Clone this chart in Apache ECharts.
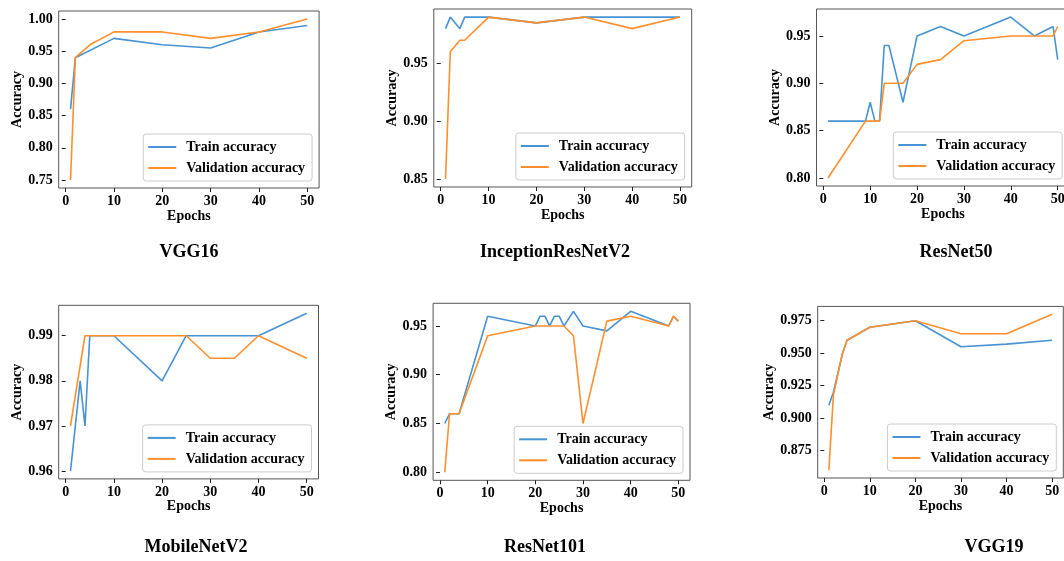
<!DOCTYPE html>
<html><head><meta charset="utf-8">
<script src="https://cdn.jsdelivr.net/npm/echarts@6/dist/echarts.min.js"></script>
<style>html,body{margin:0;padding:0;background:#fff}#c{width:1064px;height:561px}</style>
</head><body><div id="c"></div>
<script>
// ---------- data ----------
const xTicks = [0, 10, 20, 30, 40, 50];
const seriesNames = ['Train accuracy', 'Validation accuracy'];
const titles = ['VGG16', 'InceptionResNetV2', 'ResNet50', 'MobileNetV2', 'ResNet101', 'VGG19'];

const vgg16TrainEpochs = [1, 2, 10, 20, 30, 40, 50];
const vgg16Train       = [0.86, 0.94, 0.97, 0.96, 0.955, 0.98, 0.99];
const vgg16ValEpochs   = [1, 2, 5, 10, 20, 30, 40, 50];
const vgg16Val         = [0.75, 0.94, 0.96, 0.98, 0.98, 0.97, 0.98, 1.00];
const vgg16YTicks      = [0.75, 0.80, 0.85, 0.90, 0.95, 1.00];

const incTrainEpochs = [1, 2, 4, 5, 10, 20, 30, 40, 50];
const incTrain       = [0.98, 0.99, 0.98, 0.99, 0.99, 0.985, 0.99, 0.99, 0.99];
const incValEpochs   = [1, 2, 4, 5, 10, 20, 30, 40, 50];
const incVal         = [0.85, 0.96, 0.97, 0.97, 0.99, 0.985, 0.99, 0.98, 0.99];
const incYTicks      = [0.85, 0.90, 0.95];

const r50TrainEpochs = [1, 9, 10, 11, 12, 13, 14, 17, 20, 25, 30, 40, 45, 49, 50];
const r50Train       = [0.86, 0.86, 0.88, 0.86, 0.86, 0.94, 0.94, 0.88, 0.95, 0.96, 0.95, 0.97, 0.95, 0.96, 0.925];
const r50ValEpochs   = [1, 9, 12, 13, 17, 20, 25, 30, 40, 45, 49, 50];
const r50Val         = [0.80, 0.86, 0.86, 0.90, 0.90, 0.92, 0.925, 0.945, 0.95, 0.95, 0.95, 0.96];
const r50YTicks      = [0.80, 0.85, 0.90, 0.95];

const mobTrainEpochs = [1, 3, 4, 5, 10, 20, 25, 30, 40, 50];
const mobTrain       = [0.96, 0.98, 0.97, 0.99, 0.99, 0.98, 0.99, 0.99, 0.99, 0.995];
const mobValEpochs   = [1, 4, 10, 20, 25, 30, 35, 40, 50];
const mobVal         = [0.97, 0.99, 0.99, 0.99, 0.99, 0.985, 0.985, 0.99, 0.985];
const mobYTicks      = [0.96, 0.97, 0.98, 0.99];

const r101TrainEpochs = [1, 2, 4, 10, 20, 21, 22, 23, 24, 25, 26, 28, 30, 35, 40, 48, 49, 50];
const r101Train       = [0.85, 0.86, 0.86, 0.96, 0.95, 0.96, 0.96, 0.95, 0.96, 0.96, 0.95, 0.965, 0.95, 0.945, 0.965, 0.95, 0.96, 0.955];
const r101ValEpochs   = [1, 2, 4, 10, 20, 26, 28, 30, 35, 40, 48, 49, 50];
const r101Val         = [0.80, 0.86, 0.86, 0.94, 0.95, 0.95, 0.94, 0.85, 0.955, 0.96, 0.95, 0.96, 0.955];
const r101YTicks      = [0.80, 0.85, 0.90, 0.95];

const vgg19TrainEpochs = [1, 2, 4, 5, 10, 20, 30, 40, 50];
const vgg19Train       = [0.91, 0.92, 0.95, 0.96, 0.97, 0.975, 0.955, 0.957, 0.96];
const vgg19ValEpochs   = [1, 2, 4, 5, 10, 20, 30, 40, 50];
const vgg19Val         = [0.86, 0.918, 0.95, 0.96, 0.97, 0.975, 0.965, 0.965, 0.98];
const vgg19YTicks      = [0.875, 0.900, 0.925, 0.950, 0.975];

// ---------- assembly ----------
const panels = [
  {tx: vgg16TrainEpochs, ty: vgg16Train, vx: vgg16ValEpochs, vy: vgg16Val, yt: vgg16YTicks, dec: 2},
  {tx: incTrainEpochs, ty: incTrain, vx: incValEpochs, vy: incVal, yt: incYTicks, dec: 2},
  {tx: r50TrainEpochs, ty: r50Train, vx: r50ValEpochs, vy: r50Val, yt: r50YTicks, dec: 2},
  {tx: mobTrainEpochs, ty: mobTrain, vx: mobValEpochs, vy: mobVal, yt: mobYTicks, dec: 2},
  {tx: r101TrainEpochs, ty: r101Train, vx: r101ValEpochs, vy: r101Val, yt: r101YTicks, dec: 2},
  {tx: vgg19TrainEpochs, ty: vgg19Train, vx: vgg19ValEpochs, vy: vgg19Val, yt: vgg19YTicks, dec: 3}
];

// layout (pixels)
const layout = [
  {left: 58.7, top: 11, width: 260.4, height: 177, nameGap: 32, titleX: 189, titleY: 252},
  {left: 433.8, top: 9, width: 257.9, height: 178, nameGap: 32, titleX: 555, titleY: 252},
  {left: 816.5, top: 9, width: 252.7, height: 177, nameGap: 32, titleX: 956, titleY: 252},
  {left: 58.7, top: 305.3, width: 259.8, height: 173.6, nameGap: 32, titleX: 196, titleY: 547},
  {left: 433.1, top: 303.3, width: 256.9, height: 177, nameGap: 32, titleX: 545, titleY: 547},
  {left: 817.7, top: 306.4, width: 245.6, height: 171.6, nameGap: 40, titleX: 994, titleY: 547}
];

const W = 1064, H = 561;
const FONT = '"Liberation Serif", "Times New Roman", serif';
const BLUE = '#4793d3', ORANGE = '#ff8f2d', SPINE = '#555555';
const txt = {color: '#000', fontFamily: FONT, fontWeight: 'bold', fontSize: 14};

const option = {animation: false, backgroundColor: '#ffffff',
  grid: [], xAxis: [], yAxis: [], series: [], legend: [], graphic: []};

panels.forEach((p, i) => {
  const L = layout[i];
  const ys = p.ty.concat(p.vy), xs = p.tx.concat(p.vx);
  const ylo = Math.min(...ys), yhi = Math.max(...ys), ypad = (yhi - ylo) * 0.05;
  const xlo = Math.min(...xs), xhi = Math.max(...xs), xpad = (xhi - xlo) * 0.05;
  option.grid.push({left: L.left, top: L.top, width: L.width, height: L.height,
    show: true, borderColor: SPINE, borderWidth: 1, backgroundColor: 'transparent',
    containLabel: false, outerBoundsMode: 'none'});
  option.xAxis.push({gridIndex: i, type: 'value', min: xlo - xpad, max: xhi + xpad,
    splitLine: {show: false}, axisLine: {show: false},
    axisTick: {show: true, customValues: xTicks, length: 4, inside: false, lineStyle: {color: '#222', width: 1}},
    axisLabel: Object.assign({customValues: xTicks, margin: 6}, txt),
    name: 'Epochs', nameLocation: 'middle', nameGap: 20, nameTextStyle: txt});
  option.yAxis.push({gridIndex: i, type: 'value', min: ylo - ypad, max: yhi + ypad,
    splitLine: {show: false}, axisLine: {show: false},
    axisTick: {show: true, customValues: p.yt, length: 4, inside: false, lineStyle: {color: '#222', width: 1}},
    axisLabel: Object.assign({customValues: p.yt, margin: 6, formatter: v => Number(v).toFixed(p.dec)}, txt),
    name: 'Accuracy', nameLocation: 'middle', nameGap: L.nameGap, nameTextStyle: txt});
  option.series.push({name: seriesNames[0], type: 'line', xAxisIndex: i, yAxisIndex: i,
    data: p.tx.map((x, k) => [x, p.ty[k]]), symbol: 'none', lineStyle: {color: BLUE, width: 1.6},
    itemStyle: {color: BLUE}, z: 2});
  option.series.push({name: seriesNames[1], type: 'line', xAxisIndex: i, yAxisIndex: i,
    data: p.vx.map((x, k) => [x, p.vy[k]]), symbol: 'none', lineStyle: {color: ORANGE, width: 1.6},
    itemStyle: {color: ORANGE}, z: 3});
  option.legend.push({data: seriesNames, orient: 'vertical', selectedMode: false,
    right: W - (L.left + L.width - 7), bottom: H - (L.top + L.height - 7),
    padding: [6, 7, 6, 5], itemGap: 7, itemWidth: 28, itemHeight: 2, icon: 'rect',
    backgroundColor: 'rgba(255,255,255,0.85)', borderColor: '#cccccc', borderWidth: 1, borderRadius: 3,
    textStyle: Object.assign({padding: [0, 0, 0, 5]}, txt)});
  option.graphic.push({type: 'text', x: L.titleX, y: L.titleY,
    style: {text: titles[i], align: 'center', verticalAlign: 'middle', fill: '#000',
      font: 'bold 18px ' + FONT}});
});

const chart = echarts.init(document.getElementById('c'), null, {renderer: 'canvas'});
chart.setOption(option);
</script>
</body></html>
